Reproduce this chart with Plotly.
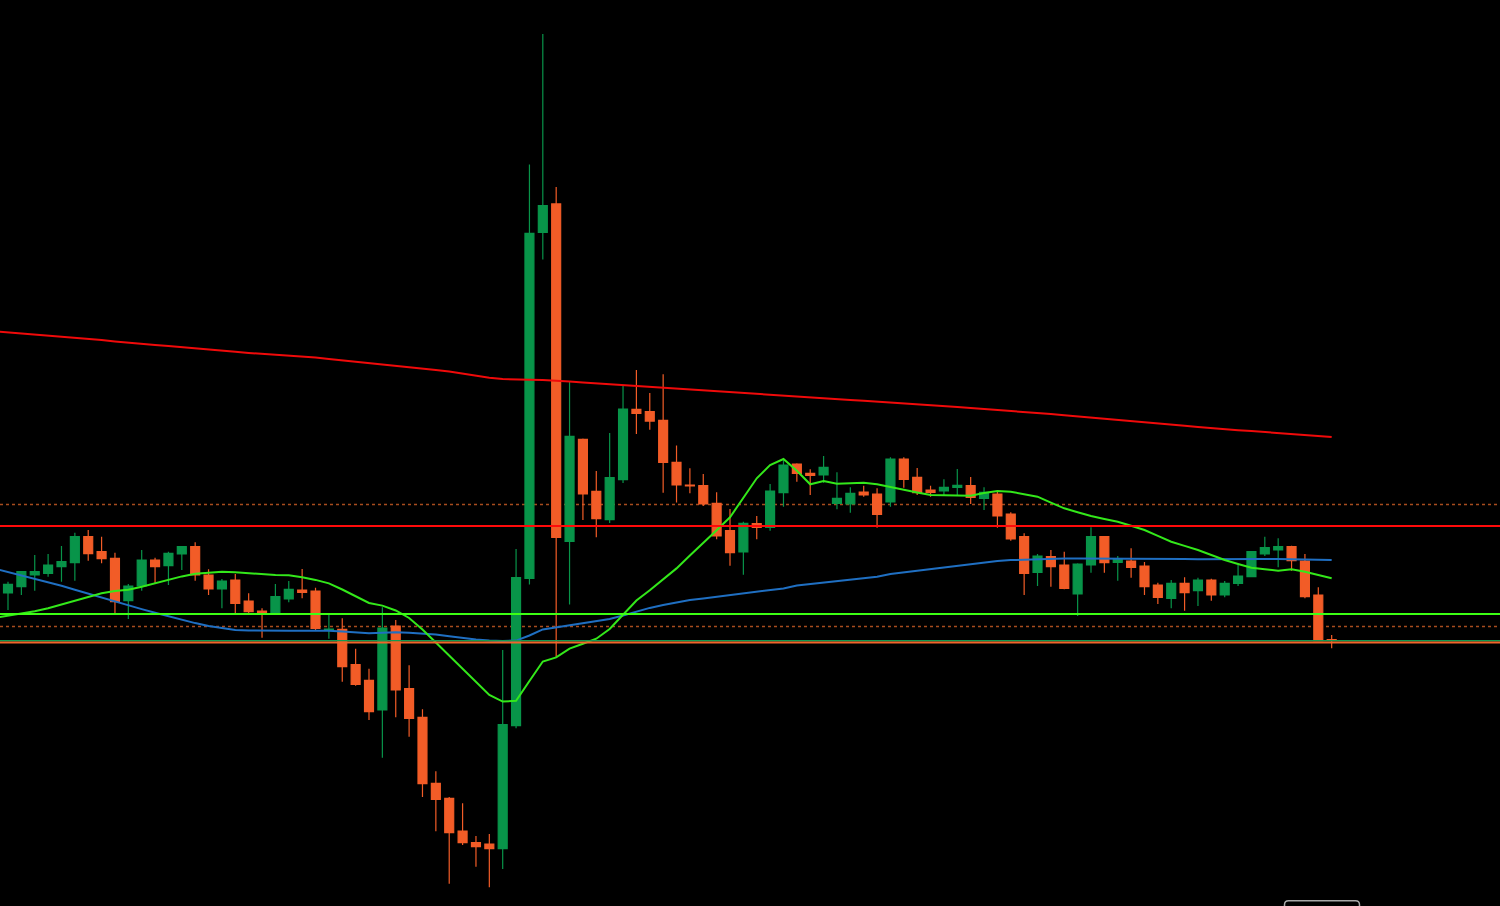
import plotly.graph_objects as go

# ---- candle data (price units, higher = up) ----
candle_idx = list(range(100))
opens = [313, 319.3, 331, 332.7, 339.3, 343.3, 369.3, 354.3, 347.7, 305.3,
         320, 346, 340.3, 352, 359.3, 331, 317, 326, 305, 295,
         292, 307, 316, 315, 276, 276.7, 241.3, 225.7, 196, 280,
         217.3, 188.7, 122.7, 107.7, 75, 63.3, 62, 57.3, 180.3, 327.5,
         673.5, 702.1, 364.7, 466.7, 414.6, 386.4, 426.3, 496.6, 494.4, 485.7,
         443.7, 421, 420.3, 402.7, 375.3, 354, 382.3, 378.7, 413.3, 442,
         432.7, 431, 402.7, 402, 414, 412, 404, 447, 428.7, 416,
         415, 418.7, 420.3, 407.7, 412, 392, 369.3, 333.7, 349.3, 341,
         312, 341, 369.3, 343.7, 345, 340, 321, 307.7, 322.7, 315.3,
         326, 311, 322.7, 329.3, 352, 356, 359.3, 345, 311, 266.5]
highs = [324.3, 334.3, 351, 352, 360, 373.3, 376, 369.3, 353.3, 322,
         356, 348.3, 354.3, 360, 363.7, 336.7, 327, 332, 312.7, 297.7,
         322, 325, 337, 318.3, 292, 287.7, 257.3, 237.3, 298.7, 286,
         240.7, 196.7, 134.7, 109, 102.7, 70, 72, 256, 357, 741.6,
         872.1, 719, 524, 467.5, 435, 473, 520.4, 536, 513, 531.7,
         460.5, 437.7, 432, 413.7, 397, 384.3, 390, 422, 446, 442.7,
         436.7, 450, 433.7, 418.7, 420.3, 417.7, 448.7, 448.7, 438, 420.3,
         426.7, 437, 429, 418.7, 414.3, 393.7, 372.7, 352, 356, 354.3,
         342.7, 378.7, 370, 350, 357.7, 344, 323.3, 326, 328.7, 328.3,
         327.3, 325, 341, 355, 369.3, 367.7, 360.3, 352, 318.7, 271]
lows = [296, 311, 315.3, 329.3, 324.3, 325.3, 345.3, 342.7, 292.7, 287,
        315.3, 322.7, 321, 336, 325.3, 311, 297.7, 291, 292.7, 268.3,
        292, 303.7, 307.7, 276, 267.3, 224.3, 220.3, 186, 148.3, 188.7,
        169.3, 109, 74.7, 22.3, 61, 39.3, 18.7, 37, 177.7, 321.4,
        646.6, 248.5, 301.4, 386, 368.7, 383, 423, 472, 476.2, 413.3,
        403.5, 412.7, 400, 366.7, 340.3, 331.3, 366.7, 375.3, 399.3, 424.3,
        411, 423.3, 396.7, 393.3, 409.3, 378.3, 399.3, 418.3, 411, 409.3,
        411, 411, 402, 396, 378.3, 365.3, 311, 320, 319.3, 316.7,
        290, 333.3, 333.3, 325.3, 328.3, 311, 302, 297.7, 295.3, 300,
        305.3, 308.7, 320, 328.7, 350, 338.7, 335.3, 307.7, 265.3, 257.7]
closes = [321.7, 334.3, 334.3, 341, 344.3, 369.3, 352.3, 347.3, 304.3, 320,
          346, 339.3, 352.7, 359.3, 331, 317, 325, 302.7, 294.3, 292.7,
          309.3, 316.7, 313.7, 277.7, 277, 239.3, 221.7, 194.3, 278, 216,
          187.7, 122.3, 106.7, 73.3, 63.3, 59.3, 57.3, 181.3, 328.3, 672.6,
          700.4, 368.7, 469.7, 412, 387.3, 428.5, 497, 492.7, 484.9, 443.7,
          421, 420, 402, 370, 353.3, 382.7, 378.7, 415, 441, 432.7,
          430.7, 438.7, 407.7, 412.7, 411, 391.7, 447, 426.7, 413.3, 413.7,
          418.7, 420.7, 408.7, 413.7, 390, 367, 332.7, 350, 339.3, 317.7,
          342, 369.3, 343.3, 347, 338.7, 319.3, 308.7, 322.7, 313.3, 326,
          311, 322.7, 330, 354.3, 358.3, 359.3, 345.3, 309.3, 265.3, 265.5]

# ---- moving averages (one point before the first visible candle) ----
ma_idx = list(range(-1, 100))
ma_slow = [574.8, 573.7, 572.6, 571.6, 570.7, 569.7, 568.5, 567.2, 565.9, 564.5,
           563.1, 562.0, 561.0, 560.0, 558.7, 557.4, 556.4, 555.4, 554.2, 553.1,
           552.3, 551.5, 550.7, 549.8, 548.4, 547.0, 545.7, 544.5, 543.1, 541.8,
           540.5, 539.1, 537.6, 536.0, 534.4, 532.2, 529.8, 528.2, 527.0, 526.4,
           526.2, 526.0, 525.4, 524.5, 523.4, 522.5, 521.8, 521.1, 520.3, 519.4,
           518.5, 517.6, 516.7, 515.8, 515.0, 514.1, 513.1, 512.1, 511.2, 510.3,
           509.4, 508.5, 507.7, 506.9, 506.1, 505.3, 504.5, 503.7, 502.9, 502.0,
           501.0, 500.0, 499.0, 498.0, 497.1, 496.2, 495.3, 494.3, 493.2, 492.0,
           490.8, 489.7, 488.6, 487.5, 486.4, 485.2, 484.0, 482.7, 481.4, 480.2,
           479.0, 477.7, 476.7, 475.8, 474.9, 474.0, 473.0, 472.0, 471.0, 470.0,
           469.0]
ma_mid = [337.4, 334.0, 330.7, 327.3, 323.8, 320.2, 316.3, 312.3, 308.3, 304.5,
          300.7, 296.9, 293.3, 289.6, 286.2, 282.9, 280.1, 277.8, 276.0, 275.6,
          275.3, 275.3, 275.3, 275.3, 275.3, 275.2, 274.5, 273.6, 272.8, 273.2,
          273.7, 273.3, 272.7, 271.6, 269.8, 268.1, 266.5, 265.5, 265.0, 265.4,
          270.5, 276.6, 278.8, 281.0, 283.2, 285.1, 287.1, 290.5, 294.4, 298.1,
          300.9, 303.4, 306.0, 307.5, 309.1, 310.8, 312.4, 314.0, 315.6, 317.6,
          320.4, 322.0, 323.4, 324.8, 326.3, 327.8, 329.3, 332.1, 333.7, 335.3,
          337.0, 338.6, 340.3, 342.0, 343.6, 345.0, 345.9, 346.4, 346.8, 347.1,
          347.4, 347.6, 347.6, 347.5, 347.4, 347.3, 347.2, 347.1, 347.0, 346.9,
          346.8, 346.7, 346.7, 346.8, 346.9, 347.0, 347.0, 346.8, 346.5, 346.2,
          346.0]
ma_fast = [288.2, 290.5, 292.5, 294.7, 297.8, 301.4, 305.3, 309.0, 312.8, 315.0,
           316.2, 319.2, 322.5, 326.5, 329.6, 332.2, 333.5, 334.2, 333.7, 332.8,
           331.6, 331.0, 330.7, 328.8, 326.1, 322.6, 316.5, 309.5, 303.0, 300.4,
           295.5, 288.0, 276.5, 263.5, 250.5, 237.5, 225.0, 211.0, 204.4, 205.2,
           225.0, 244.5, 248.6, 257.4, 262.3, 267.3, 277.0, 291.5, 305.5, 315.8,
           326.7, 337.6, 350.5, 362.8, 375.8, 388.7, 408.0, 427.7, 441.0, 447.0,
           435.3, 421.7, 425.0, 422.3, 422.7, 423.3, 421.7, 418.8, 416.0, 413.5,
           411.0, 410.8, 410.6, 410.3, 413.0, 415.0, 414.3, 411.8, 409.3, 403.4,
           397.7, 393.8, 390.0, 387.1, 384.3, 380.2, 376.0, 370.1, 364.3, 360.1,
           356.0, 351.0, 346.0, 342.0, 338.3, 336.7, 335.3, 336.7, 334.3, 331.0,
           327.7]

# ---- horizontal levels ----
level_red = 380.0
level_dotted_top = 401.5
level_lime = 292.0
level_dotted_low = 279.5
level_green_bottom = 265.3
level_orange_bottom = 263.5

UP = "#089449"
DOWN = "#f25c27"

fig = go.Figure()

fig.add_trace(go.Candlestick(
    x=candle_idx, open=opens, high=highs, low=lows, close=closes,
    increasing=dict(line=dict(color=UP, width=1.2), fillcolor=UP),
    decreasing=dict(line=dict(color=DOWN, width=1.2), fillcolor=DOWN),
    whiskerwidth=0, hoverinfo="skip", showlegend=False,
))

fig.add_trace(go.Scatter(x=ma_idx, y=ma_mid, mode="lines",
                         line=dict(color="#1f6fc2", width=2), hoverinfo="skip", showlegend=False))
fig.add_trace(go.Scatter(x=ma_idx, y=ma_fast, mode="lines",
                         line=dict(color="#33e81a", width=2), hoverinfo="skip", showlegend=False))
fig.add_trace(go.Scatter(x=ma_idx, y=ma_slow, mode="lines",
                         line=dict(color="#f00a0a", width=2), hoverinfo="skip", showlegend=False))

# horizontal lines
fig.add_hline(y=level_dotted_top, line=dict(color="#a84c1e", width=1.5, dash="dot"), layer="below")
fig.add_hline(y=level_dotted_low, line=dict(color="#a84c1e", width=1.5, dash="dot"), layer="below")
fig.add_hline(y=level_red, line=dict(color="#ff0a0a", width=2))
fig.add_hline(y=level_lime, line=dict(color="#3cff14", width=2))
fig.add_hline(y=level_green_bottom, line=dict(color="#129a52", width=1.6))
fig.add_hline(y=level_orange_bottom, line=dict(color="#f2642a", width=2))

# partial rounded button at bottom right (UI decoration)
x0, x1 = 1284.5 / 1500, 1359.5 / 1500
yt = 1 - 900.7 / 906
rx, ry = 4 / 1500, 4 / 906
path = (f"M {x0},-0.02 L {x0},{yt - ry} Q {x0},{yt} {x0 + rx},{yt} "
        f"L {x1 - rx},{yt} Q {x1},{yt} {x1},{yt - ry} L {x1},-0.02")
fig.add_shape(type="path", path=path, xref="paper", yref="paper",
              line=dict(color="#a8a8a8", width=1.5))

fig.update_layout(
    width=1500, height=906,
    margin=dict(l=0, r=0, t=0, b=0),
    paper_bgcolor="black", plot_bgcolor="black",
    showlegend=False, hovermode=False,
    boxgap=0.33, boxgroupgap=0,
    xaxis=dict(range=[-0.598, 111.59], visible=False, showgrid=False,
               zeroline=False, rangeslider=dict(visible=False), fixedrange=True),
    yaxis=dict(range=[0, 906], visible=False, showgrid=False,
               zeroline=False, fixedrange=True),
)

fig.write_html("out.html", config={"displayModeBar": False},
               post_script="document.body.style.margin='0';document.body.style.overflow='hidden';")
